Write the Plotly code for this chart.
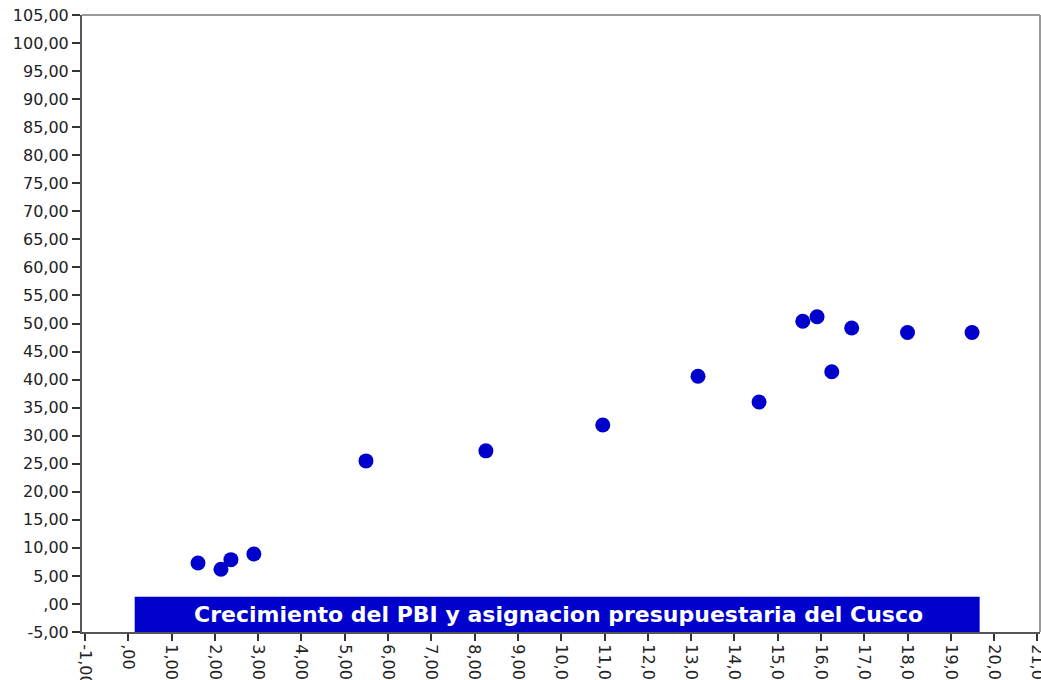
import plotly.graph_objects as go

# Crecimiento del PBI (x) vs asignacion presupuestaria (y)
pbi = [1.61, 2.14, 2.37, 2.90, 5.49, 8.26, 10.96, 13.16, 14.57,
       15.58, 15.91, 16.25, 16.71, 18.00, 19.49]
asignacion = [7.3, 6.2, 7.9, 8.9, 25.5, 27.3, 31.9, 40.6, 36.0,
              50.4, 51.2, 41.4, 49.2, 48.4, 48.4]

x_ticks = list(range(-1, 22))
y_ticks = list(range(-5, 106, 5))


def etiqueta(v):
    # formato SPSS: coma decimal y sin cero inicial
    s = f"{v:.2f}".replace(".", ",")
    return s.replace("0,", ",", 1) if v == 0 else s


titulo = "Crecimiento del PBI y asignacion presupuestaria del Cusco"
azul = "#0000CC"

fig = go.Figure()
fig.add_trace(go.Scatter(
    x=pbi, y=asignacion, mode="markers",
    marker=dict(color=azul, size=15, line=dict(width=0)),
    showlegend=False
))

# barra del titulo dentro del area de grafico
fig.add_shape(type="rect", xref="paper", yref="paper",
              x0=0.055, x1=0.937, y0=0, y1=0.057,
              fillcolor=azul, line=dict(width=0), layer="above")
fig.add_annotation(text="<b>" + titulo + "</b>", xref="paper", yref="paper",
                   x=0.497, y=0.0285, xanchor="center", yanchor="middle",
                   showarrow=False,
                   font=dict(family="DejaVu Sans", size=22, color="white"))

# bordes superior y derecho en gris claro
fig.add_shape(type="line", xref="paper", yref="paper", x0=0, x1=1, y0=1, y1=1,
              line=dict(color="#9a9a9a", width=2))
fig.add_shape(type="line", xref="paper", yref="paper", x0=1, x1=1, y0=0, y1=1,
              line=dict(color="#9a9a9a", width=2))

fig.update_layout(
    width=1041, height=680,
    margin=dict(l=82, r=1, t=15, b=48),
    plot_bgcolor="white", paper_bgcolor="white",
    font=dict(family="DejaVu Sans", size=16, color="#222"),
    xaxis=dict(range=[-1.07, 21.06], tickvals=x_ticks,
               ticktext=[etiqueta(v) for v in x_ticks], tickangle=90,
               automargin=False, ticklabeloverflow="allow",
               showgrid=False, zeroline=False, showline=True,
               linecolor="#555", linewidth=2,
               ticks="outside", ticklen=7, tickcolor="#333", tickwidth=2),
    yaxis=dict(range=[-5, 105], tickvals=y_ticks,
               ticktext=[etiqueta(v) for v in y_ticks],
               automargin=False, ticklabeloverflow="allow",
               showgrid=False, zeroline=False, showline=True,
               linecolor="#555", linewidth=2,
               ticks="outside", ticklen=8, tickcolor="#333", tickwidth=2),
)

# sin margen de pagina ni barras de desplazamiento
fig.write_html("out.html", config={"displayModeBar": False},
               post_script="document.body.style.margin='0';"
               "document.body.style.overflow='hidden';")
